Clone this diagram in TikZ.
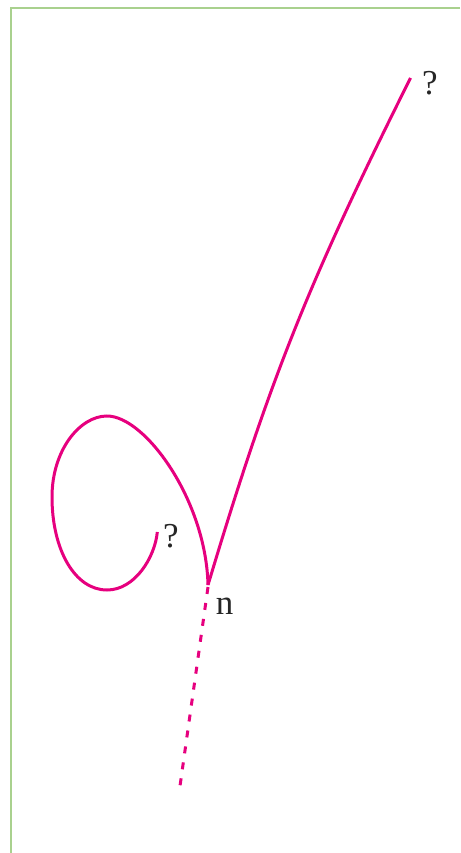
\documentclass[tikz,border=0pt]{standalone}
\usepackage{fontspec}
\setmainfont{Liberation Serif}
\definecolor{curvepink}{HTML}{E6007E}
\definecolor{framegreen}{HTML}{A9D18E}
\tikzset{
  curve/.style={draw=curvepink, line width=3pt, line cap=butt},
  dashcurve/.style={draw=curvepink, line width=3pt, dash pattern=on 7pt off 9.1pt},
  lbl/.style={inner sep=0pt, font=\fontsize{35}{40}\selectfont, text=black!85},
  frameline/.style={draw=framegreen, line width=1.4pt}
}
\begin{document}
\begin{tikzpicture}[x=1pt,y=1pt]
\useasboundingbox (0,0) rectangle (460,-853);
% frame
\draw[frameline] (460,-8) -- (11,-8) -- (11,-853);
% key points
\coordinate (cusp) at (208,-585);
\coordinate (topend) at (410.5,-78);
\coordinate (looptop) at (107,-416);
\coordinate (loopleft) at (52,-497);
\coordinate (loopbottom) at (107,-590);
\coordinate (loopend) at (157.3,-532);
\coordinate (dashstart) at (208,-587);
\coordinate (dashend) at (180,-786);
% upper branch
\draw[curve] (cusp) .. controls (269.5,-380) and (308,-283) .. (topend);
% loop branch
\draw[curve] (cusp) .. controls (206,-500) and (145,-416) .. (looptop)
  .. controls (80,-416) and (52,-450) .. (loopleft)
  .. controls (52,-550) and (75,-590) .. (loopbottom)
  .. controls (135,-590) and (155,-557) .. (loopend);
% dashed continuation
\draw[dashcurve] (dashstart) -- (dashend);
% labels
\node[lbl] (q1) at (430,-83) {?};
\node[lbl] (q2) at (171,-536) {?};
\node[lbl] (n) at (224.5,-606) {n};
\end{tikzpicture}
\end{document}
